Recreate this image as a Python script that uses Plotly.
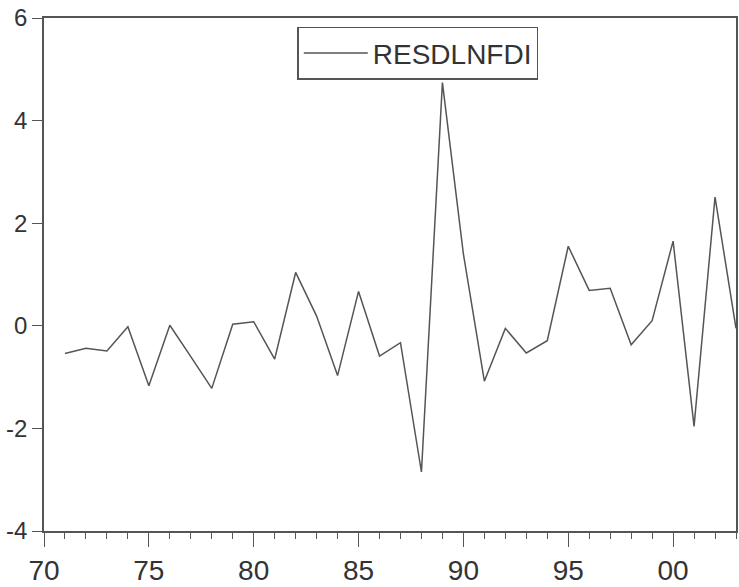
import plotly.graph_objects as go

years = list(range(1971, 2004))
resdlnfdi = [-0.54, -0.44, -0.49, -0.02, -1.17, 0.01, -0.60, -1.22, 0.03, 0.08,
             -0.65, 1.04, 0.19, -0.97, 0.67, -0.59, -0.33, -2.85, 4.74, 1.40,
             -1.08, -0.05, -0.53, -0.29, 1.55, 0.69, 0.73, -0.37, 0.10, 1.65,
             -1.96, 2.51, -0.05]

x_tickvals = [1970, 1975, 1980, 1985, 1990, 1995, 2000]
x_ticktext = ["70", "75", "80", "85", "90", "95", "00"]
y_tickvals = [-4, -2, 0, 2, 4, 6]
y_ticktext = ["-4", "-2", "0", "2", "4", "6"]

FONT = "Arial, Liberation Sans, sans-serif"
AX = "#555555"

fig = go.Figure()
fig.add_trace(go.Scatter(x=years, y=resdlnfdi, mode="lines", name="RESDLNFDI",
                         line=dict(color="#555555", width=1.5)))

fig.update_layout(
    width=739, height=587,
    margin=dict(l=44, r=1, t=18, b=49),
    paper_bgcolor="white", plot_bgcolor="white",
    showlegend=True,
    legend=dict(x=0.366, y=0.983, xanchor="left", yanchor="top",
                bordercolor=AX, borderwidth=1.5, bgcolor="white",
                font=dict(family=FONT, size=28, color="#333333"),
                itemwidth=64, tracegroupgap=0),
)
fig.update_xaxes(range=[1970, 2003], showgrid=False, zeroline=False,
                 showline=True, linecolor=AX, linewidth=1.5, mirror=True,
                 tickmode="array", tickvals=x_tickvals, ticktext=x_ticktext,
                 ticks="outside", ticklen=14, tickwidth=1.2, tickcolor=AX,
                 minor=dict(dtick=1, tick0=1970, ticks="outside", ticklen=6,
                            tickwidth=1.2, tickcolor=AX, showgrid=False),
                 tickfont=dict(family=FONT, size=28, color="#333333"))
fig.update_yaxes(range=[-4, 6], showgrid=False, zeroline=False,
                 showline=True, linecolor=AX, linewidth=1.5, mirror=True,
                 tickmode="array", tickvals=y_tickvals, ticktext=y_ticktext,
                 ticks="outside", ticklen=10, tickwidth=1.2, tickcolor=AX,
                 tickfont=dict(family=FONT, size=24, color="#333333"))

fig.write_html("out.html")
